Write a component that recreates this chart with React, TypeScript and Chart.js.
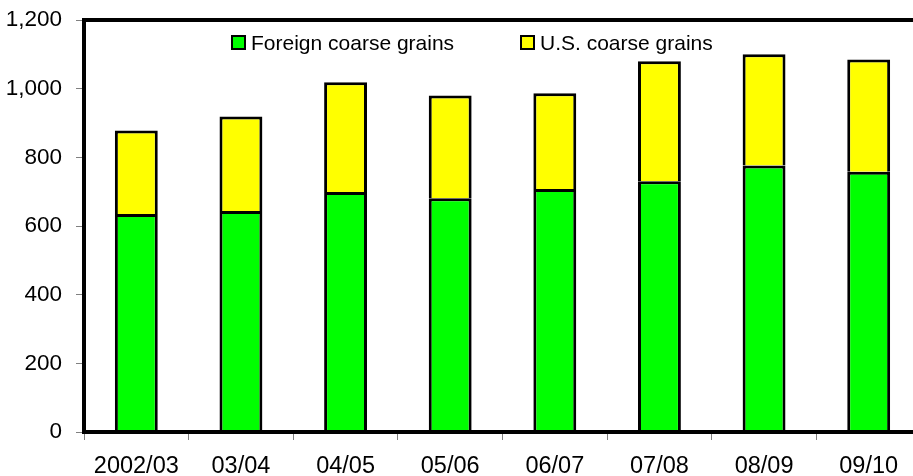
import { useEffect, useRef } from 'react';
import { Chart, registerables } from 'chart.js';

Chart.register(...registerables);

const categories = ['2002/03', '03/04', '04/05', '05/06', '06/07', '07/08', '08/09', '09/10'];
const foreignCoarseGrains = [635, 644, 699, 681, 708, 730, 776, 758];
const usCoarseGrains = [243, 275, 320, 299, 279, 350, 324, 327];
const yTickValues = [0, 200, 400, 600, 800, 1000, 1200];

const FONT = "'Liberation Sans', Arial, Helvetica, sans-serif";

const framePlugin = {
  id: 'frame',
  afterDatasetsDraw(chart: any) {
    const { ctx, chartArea } = chart;
    const { left, top, right, bottom } = chartArea;
    ctx.save();
    ctx.strokeStyle = '#000';
    ctx.lineWidth = 4;
    ctx.strokeRect(left, top, right - left, bottom - top);
    ctx.restore();
  },
};

const insideLegendPlugin = {
  id: 'insideLegend',
  afterDraw(chart: any) {
    const { ctx, chartArea } = chart;
    const offsets = [148, 437];
    const boxTop = chartArea.top + 16;
    const box = 13;
    ctx.save();
    ctx.font = `21px ${FONT}`;
    ctx.textBaseline = 'alphabetic';
    ctx.textAlign = 'left';
    chart.data.datasets.forEach((ds: any, i: number) => {
      const x = chartArea.left + offsets[i];
      ctx.fillStyle = ds.backgroundColor;
      ctx.fillRect(x, boxTop, box, box);
      ctx.strokeStyle = '#000';
      ctx.lineWidth = 2;
      ctx.strokeRect(x, boxTop, box, box);
      ctx.fillStyle = '#000';
      ctx.fillText(ds.label, x + box + 6, boxTop + 14);
    });
    ctx.restore();
  },
};

export default function App() {
  const ref = useRef<HTMLCanvasElement>(null);

  useEffect(() => {
    document.body.style.margin = '0';
    const canvas = ref.current;
    if (!canvas) return;
    const chart = new Chart(canvas, {
      type: 'bar',
      data: {
        labels: categories,
        datasets: [
          {
            label: 'Foreign coarse grains',
            data: foreignCoarseGrains,
            backgroundColor: '#00ff00',
            borderColor: '#000',
            borderWidth: 3,
            barPercentage: 0.41,
            categoryPercentage: 1,
          },
          {
            label: 'U.S. coarse grains',
            data: usCoarseGrains,
            backgroundColor: '#ffff00',
            borderColor: '#000',
            borderWidth: 3,
            barPercentage: 0.41,
            categoryPercentage: 1,
          },
        ],
      },
      options: {
        responsive: false,
        animation: false,
        devicePixelRatio: 1,
        layout: { padding: { top: 20, left: 0, right: 0, bottom: 0 } },
        plugins: {
          legend: { display: false },
          tooltip: { enabled: false },
        },
        scales: {
          x: {
            stacked: true,
            offset: true,
            grid: {
              offset: true,
              drawOnChartArea: false,
              tickLength: 8,
              color: '#808080',
              lineWidth: 1,
            },
            border: { display: false },
            ticks: {
              font: { family: FONT, size: 23.5 },
              color: '#000',
              padding: 12,
              maxRotation: 0,
              autoSkip: false,
            },
            afterFit: (scale: any) => {
              scale.height = 44;
              scale.paddingLeft = 0;
              scale.paddingRight = 0;
            },
          },
          y: {
            stacked: true,
            min: 0,
            max: 1200,
            afterBuildTicks: (scale: any) => {
              scale.ticks = yTickValues.map((v) => ({ value: v }));
            },
            ticks: {
              font: { family: FONT, size: 22.5 },
              color: '#000',
              padding: 14,
            },
            grid: {
              drawOnChartArea: false,
              tickLength: 8,
              color: '#808080',
              lineWidth: 1,
            },
            border: { display: false },
            afterFit: (scale: any) => {
              scale.width = 84;
              scale.paddingTop = 0;
              scale.paddingBottom = 0;
            },
          },
        },
      },
      plugins: [framePlugin, insideLegendPlugin],
    });
    return () => chart.destroy();
  }, []);

  return (
    <div style={{ position: 'absolute', left: 0, top: 0, width: 913, height: 476, overflow: 'hidden', background: '#fff' }}>
      <canvas ref={ref} width={921} height={476} style={{ width: 921, height: 476, display: 'block' }} />
    </div>
  );
}
